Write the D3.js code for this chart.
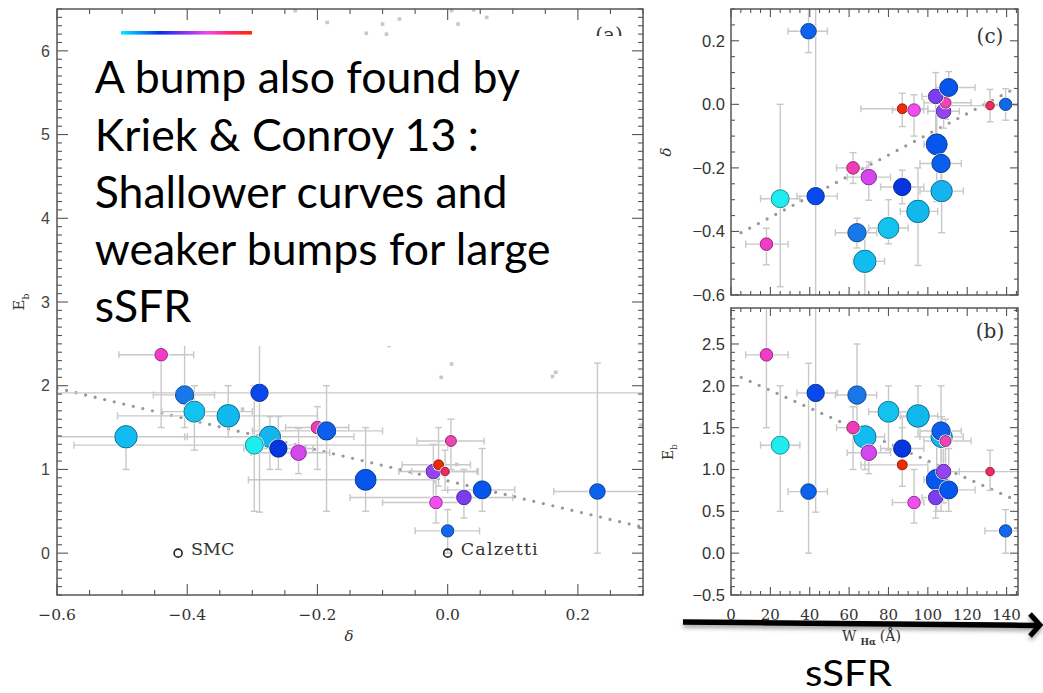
<!DOCTYPE html>
<html>
<head>
<meta charset="utf-8">
<script src="https://cdn.jsdelivr.net/npm/d3@7"></script>
<style>
body { margin: 0; background: #fff; }
svg { display: block; }
</style>
</head>
<body>
<div id="viz"></div>
<script>
// One galaxy per entry, in drawing order (later ones sit on top).
// delta = slope offset, eb = bump strength, wha = H-alpha equivalent width (A)
var delta   = [-0.404,-0.389,-0.337,-0.494,-0.273,-0.297,-0.260,-0.126,-0.440,-0.289,-0.229,-0.200,-0.186,-0.022,-0.014,-0.004,0.005,-0.018,0.025,0.053,0.000,0.230];
var eb      = [1.89,1.69,1.64,1.39,1.39,1.29,1.25,0.876,2.37,1.915,1.20,1.50,1.46,0.975,1.055,0.975,1.34,0.605,0.665,0.756,0.266,0.736];
var wha     = [64,80,95,68,107,25,87,104.5,18,43,70,62,106.7,108,87,131.6,109,93,104,110.6,139.5,39.4];
var deltaLo = [-0.452,-0.439,-0.507,-0.75,-0.404,-0.574,-0.313,-0.306,-0.505,-0.8,-0.302,-0.249,-0.300,-0.075,-0.070,-0.055,-0.047,-0.100,-0.150,0.000,-0.050,0.163];
var deltaHi = [-0.358,-0.300,-0.200,-0.400,-0.144,0.000,-0.207,-0.020,-0.390,0.5,-0.181,-0.152,-0.100,0.045,0.035,0.047,0.056,0.030,0.100,0.103,0.049,0.40];
var ebLo    = [1.50,1.23,1.39,1.00,1.00,0.50,1.00,0.50,1.50,0.49,0.95,1.00,0.50,0.60,0.80,0.75,1.00,0.36,0.42,0.50,0.00,0.00];
var ebHi    = [2.50,2.00,2.00,1.52,1.63,2.00,1.63,1.50,3.50,3.50,1.49,1.75,2.00,1.30,1.50,1.23,1.60,1.00,1.00,1.25,0.52,2.27];
var whaLo   = [53,70,86,62,96,15,76,98,7.5,33.5,59,53.6,96,100,66,108,98,82,97,104,129,29];
var whaHi   = [74,90,105,78,118,35,98,109,29,54,81,69,117,116,100,150,122,98,110,124,150,49];
var size    = [9.2,10.5,11.3,11.2,10.7,9.0,8.7,10.5,6.3,8.7,7.8,6.3,9.2,7.3,5.0,4.3,5.5,6.3,7.3,9.0,6.2,7.8];
var colors  = ["#1878ea","#14c2f0","#10b8ee","#12bcf0","#16b4ee","#1eecee","#0636e2","#0656ee","#f03cc8","#0848ec","#d646ee",
               "#ee3cb6","#0c5eec","#9244ee","#f02a04","#ee2a5e","#ee44b4","#f04cee","#7a3eee","#0656ee","#1068ee","#0a62ee"];

// faint grey literature points in panel (a)
var greyDelta = [-0.185,-0.125,-0.100,-0.094,-0.074,0.016,0.060,-0.234,0.006,0.040,-0.010,0.006,0.161,0.166,0.297,-0.315,0.014,-0.090];
var greyEb    = [6.34,6.21,6.32,6.20,6.38,6.32,6.40,6.48,6.48,6.49,2.10,2.26,2.11,2.16,1.53,1.72,1.06,2.48];

// reference curves
var refNames = ["SMC", "Calzetti"];
var refDelta = [-0.414, 0.0];
var refEb    = [0, 0];

// dotted fit lines (end points)
var fitADelta = [-0.6, 0.3],   fitAEb    = [1.97, 0.31];
var fitCW     = [5.1, 145.5],  fitCDelta = [-0.404, 0.054];
var fitBW     = [5.2, 145.5],  fitBEb    = [2.10, 0.625];

// tick labels
var aXTicks = [-0.6, -0.4, -0.2, 0.0, 0.2];
var aYTicks = [0, 1, 2, 3, 4, 5, 6];
var cYTicks = [-0.6, -0.4, -0.2, 0.0, 0.2];
var bYTicks = [-0.5, 0.0, 0.5, 1.0, 1.5, 2.0, 2.5];
var wTicks  = [0, 20, 40, 60, 80, 100, 120, 140];

var noteLines = ["A bump also found by", "Kriek & Conroy 13 :", "Shallower curves and", "weaker bumps for large", "sSFR"];

var SERIF = "'DejaVu Serif', serif";
var SANS = "'Liberation Sans', Arial, sans-serif";
var ERR = "#c8c8c8";
var idx = d3.range(delta.length);

var xa = d3.scaleLinear().domain([-0.6, 0.3]).range([57, 643]);
var ya = d3.scaleLinear().domain([-0.5, 6.5]).range([595, 9]);
var xw = d3.scaleLinear().domain([0, 145.8]).range([731, 1018]);
var yc = d3.scaleLinear().domain([-0.6, 0.3]).range([295, 9]);
var yb = d3.scaleLinear().domain([-0.5, 2.93]).range([595, 308]);

var svg, defs;

function make_panel(name, x, y) {
    var x0 = x.range()[0], x1 = x.range()[1], y0 = y.range()[1], y1 = y.range()[0];
    defs.append("clipPath").attr("id", "clip-" + name)
        .append("rect").attr("x", x0).attr("y", y0).attr("width", x1 - x0).attr("height", y1 - y0);
    var g = svg.append("g").attr("id", name);
    var plot = g.append("g").attr("clip-path", "url(#clip-" + name + ")");
    return {g: g, plot: plot};
}

function is_major(v, step) {
    var q = v / step;
    return Math.abs(q - Math.round(q)) < 1e-6;
}

function add_frame(g, x, y, xMinor, xMajor, yMinor, yMajor, majLen, minLen) {
    var x0 = x.range()[0], x1 = x.range()[1], y0 = y.range()[1], y1 = y.range()[0];
    var dx = x.domain(), dy = y.domain();
    var xs = d3.range(Math.ceil(dx[0] / xMinor - 1e-6), Math.floor(dx[1] / xMinor + 1e-6) + 1).map(function(k) { return k * xMinor; });
    var ys = d3.range(Math.ceil(dy[0] / yMinor - 1e-6), Math.floor(dy[1] / yMinor + 1e-6) + 1).map(function(k) { return k * yMinor; });
    var t = g.append("g").attr("stroke", "#555").attr("stroke-width", 1.1);
    xs.forEach(function(v) {
        var L = is_major(v, xMajor) ? majLen : minLen;
        t.append("line").attr("x1", x(v)).attr("x2", x(v)).attr("y1", y1).attr("y2", y1 - L);
        t.append("line").attr("x1", x(v)).attr("x2", x(v)).attr("y1", y0).attr("y2", y0 + L);
    });
    ys.forEach(function(v) {
        var L = is_major(v, yMajor) ? majLen : minLen;
        t.append("line").attr("y1", y(v)).attr("y2", y(v)).attr("x1", x0).attr("x2", x0 + L);
        t.append("line").attr("y1", y(v)).attr("y2", y(v)).attr("x1", x1).attr("x2", x1 - L);
    });
    g.append("rect").attr("x", x0).attr("y", y0).attr("width", x1 - x0).attr("height", y1 - y0)
        .attr("fill", "none").attr("stroke", "#555").attr("stroke-width", 1.5);
}

// error bars with small caps
function add_errors(plot, xv, yv, xl, xh, yl, yh, x, y) {
    var e = plot.append("g").attr("stroke", ERR).attr("stroke-width", 1.4).attr("fill", "none");
    var c = 3.5;
    idx.forEach(function(i) {
        var px = x(xv[i]), py = y(yv[i]);
        var a = x(xl[i]), b = x(xh[i]), u = y(yh[i]), d = y(yl[i]);
        e.append("line").attr("x1", a).attr("x2", b).attr("y1", py).attr("y2", py);
        e.append("line").attr("x1", a).attr("x2", a).attr("y1", py - c).attr("y2", py + c);
        e.append("line").attr("x1", b).attr("x2", b).attr("y1", py - c).attr("y2", py + c);
        e.append("line").attr("x1", px).attr("x2", px).attr("y1", u).attr("y2", d);
        e.append("line").attr("x1", px - c).attr("x2", px + c).attr("y1", u).attr("y2", u);
        e.append("line").attr("x1", px - c).attr("x2", px + c).attr("y1", d).attr("y2", d);
    });
}

function add_fit(plot, xv, yv, x, y) {
    plot.append("line")
        .attr("x1", x(xv[0])).attr("y1", y(yv[0]))
        .attr("x2", x(xv[1])).attr("y2", y(yv[1]))
        .attr("stroke", "#9a9a9a").attr("stroke-width", 3.3)
        .attr("stroke-linecap", "round").attr("stroke-dasharray", "0,9.8");
}

function add_points(plot, xv, yv, x, y) {
    var p = plot.append("g").selectAll("g").data(idx).join("g");
    p.append("circle")
        .attr("cx", function(i) { return x(xv[i]); })
        .attr("cy", function(i) { return y(yv[i]); })
        .attr("r", function(i) { return size[i] + 1.1; })
        .attr("fill", "#fff");
    p.append("circle")
        .attr("cx", function(i) { return x(xv[i]); })
        .attr("cy", function(i) { return y(yv[i]); })
        .attr("r", function(i) { return size[i]; })
        .attr("fill", function(i) { return colors[i]; })
        .attr("stroke", function(i) { return d3.color(colors[i]).darker(1.7); })
        .attr("stroke-width", 0.9);
}

function sub_label(g, x, y, main, sub, rotate, size) {
    var t = g.append("text").attr("font-family", SERIF).attr("font-size", size).attr("fill", "#333")
        .attr("text-anchor", "middle")
        .attr("transform", "translate(" + x + "," + y + ")" + (rotate ? " rotate(-90)" : ""));
    t.append("tspan").text(main);
    t.append("tspan").attr("font-size", size * 0.62).attr("dy", size * 0.3).text(sub);
    return t;
}

function main() {
    svg = d3.select("#viz").append("svg").attr("width", 1043).attr("height", 693);
    defs = svg.append("defs");

    var grad = defs.append("linearGradient").attr("id", "cbar");
    [[0, "#00eeff"], [0.3, "#0a2cee"], [0.5, "#8a38ee"], [0.66, "#f048ee"], [0.82, "#ff2a6a"], [1, "#ff2a00"]]
        .forEach(function(s) { grad.append("stop").attr("offset", s[0]).attr("stop-color", s[1]); });
    var sh = defs.append("filter").attr("id", "shadow").attr("x", "-5%").attr("y", "-100%").attr("width", "110%").attr("height", "400%");
    sh.append("feDropShadow").attr("dx", 0).attr("dy", 3).attr("stdDeviation", 2)
        .attr("flood-color", "#000").attr("flood-opacity", 0.35);

    // ---- panel (a): Eb vs delta
    var A = make_panel("pa", xa, ya);
    A.plot.append("g").selectAll("rect").data(greyDelta).join("rect")
        .attr("x", function(d) { return xa(d) - 1.8; })
        .attr("y", function(d, i) { return ya(greyEb[i]) - 1.8; })
        .attr("width", 3.6).attr("height", 3.6).attr("fill", "#c8c8c8");
    add_fit(A.plot, fitADelta, fitAEb, xa, ya);
    add_errors(A.plot, delta, eb, deltaLo, deltaHi, ebLo, ebHi, xa, ya);
    add_points(A.plot, delta, eb, xa, ya);
    A.plot.append("g").selectAll("circle").data(refDelta).join("circle")
        .attr("cx", function(d) { return xa(d); })
        .attr("cy", function(d, i) { return ya(refEb[i]); })
        .attr("r", 4).attr("fill", "none").attr("stroke", "#222").attr("stroke-width", 1.6);
    A.plot.append("g").selectAll("text").data(refNames).join("text")
        .attr("x", function(d, i) { return xa(refDelta[i]) + 13; })
        .attr("y", function(d, i) { return ya(refEb[i]) + 1.5; })
        .attr("font-family", SERIF).attr("font-size", 17.5).attr("fill", "#333")
        .attr("letter-spacing", function(d, i) { return i ? 1.2 : 0; })
        .text(function(d) { return d; });
    A.g.append("text").attr("x", 609).attr("y", 42).attr("text-anchor", "middle")
        .attr("font-family", SERIF).attr("font-size", 20).attr("fill", "#333").text("(a)");

    // white text box pasted over the top of panel (a)
    svg.append("rect").attr("x", 68).attr("y", 36).attr("width", 564).attr("height", 310).attr("fill", "#fff");
    svg.append("rect").attr("x", 121).attr("y", 31).attr("width", 131).attr("height", 3.6).attr("fill", "url(#cbar)");
    add_frame(A.g, xa, ya, 0.05, 0.2, 0.1, 1, 11, 5);

    A.g.append("g").selectAll("text").data(aXTicks).join("text")
        .attr("x", function(d) { return xa(d); }).attr("y", 620)
        .attr("text-anchor", "middle").attr("font-family", SERIF).attr("font-size", 15.5).attr("fill", "#333")
        .text(d3.format(".1f"));
    A.g.append("g").selectAll("text").data(aYTicks).join("text")
        .attr("x", 50).attr("y", function(d) { return ya(d); }).attr("dy", "0.36em")
        .attr("text-anchor", "end").attr("font-family", SANS).attr("font-size", 16).attr("fill", "#444")
        .text(d3.format("d"));
    A.g.append("text").attr("x", 349).attr("y", 641).attr("text-anchor", "middle")
        .attr("font-family", SERIF).attr("font-style", "italic").attr("font-size", 15).attr("fill", "#333").text("δ");
    sub_label(A.g, 24, 302, "E", "b", true, 15);

    // ---- panel (c): delta vs W_Ha
    var C = make_panel("pc", xw, yc);
    add_fit(C.plot, fitCW, fitCDelta, xw, yc);
    add_errors(C.plot, wha, delta, whaLo, whaHi, deltaLo, deltaHi, xw, yc);
    add_points(C.plot, wha, delta, xw, yc);
    add_frame(C.g, xw, yc, 5, 20, 0.05, 0.2, 8, 4);
    C.g.append("g").selectAll("text").data(cYTicks).join("text")
        .attr("x", 725).attr("y", function(d) { return yc(d); }).attr("dy", "0.36em")
        .attr("text-anchor", "end").attr("font-family", SANS).attr("font-size", 16.5).attr("fill", "#333")
        .text(d3.format(".1f"));
    C.g.append("text").attr("x", 990).attr("y", 43).attr("text-anchor", "middle")
        .attr("font-family", SERIF).attr("font-size", 20).attr("fill", "#333").text("(c)");
    C.g.append("text").attr("transform", "translate(671,152) rotate(-90)").attr("text-anchor", "middle")
        .attr("font-family", SERIF).attr("font-style", "italic").attr("font-size", 15).attr("fill", "#333").text("δ");

    // ---- panel (b): Eb vs W_Ha
    var B = make_panel("pb", xw, yb);
    add_fit(B.plot, fitBW, fitBEb, xw, yb);
    add_errors(B.plot, wha, eb, whaLo, whaHi, ebLo, ebHi, xw, yb);
    add_points(B.plot, wha, eb, xw, yb);
    add_frame(B.g, xw, yb, 5, 20, 0.1, 0.5, 8, 4);
    B.g.append("g").selectAll("text").data(bYTicks).join("text")
        .attr("x", 725).attr("y", function(d) { return yb(d); }).attr("dy", "0.36em")
        .attr("text-anchor", "end").attr("font-family", SANS).attr("font-size", 16.5).attr("fill", "#333")
        .text(d3.format(".1f"));
    B.g.append("g").selectAll("text").data(wTicks).join("text")
        .attr("x", function(d) { return xw(d); }).attr("y", 620)
        .attr("text-anchor", "middle").attr("font-family", SERIF).attr("font-size", 15).attr("fill", "#333")
        .text(function(d) { return d; });
    B.g.append("text").attr("x", 990).attr("y", 338).attr("text-anchor", "middle")
        .attr("font-family", SERIF).attr("font-size", 20).attr("fill", "#333").text("(b)");
    sub_label(B.g, 673, 452, "E", "b", true, 14);
    var wl = B.g.append("text").attr("x", 842).attr("y", 641)
        .attr("font-family", SERIF).attr("font-size", 14).attr("fill", "#333");
    wl.append("tspan").text("W");
    wl.append("tspan").attr("dx", 4).attr("dy", 4).attr("font-size", 9).attr("font-weight", "bold").text("Hα");
    wl.append("tspan").attr("dx", 4).attr("dy", -4).text("(Å)");

    // ---- slide overlay: arrow, sSFR and the note text
    var arrow = svg.append("g").attr("filter", "url(#shadow)");
    arrow.append("line").attr("x1", 683).attr("y1", 622).attr("x2", 1038).attr("y2", 625.5)
        .attr("stroke", "#000").attr("stroke-width", 5.5);
    arrow.append("polyline").attr("points", "1030,614 1040,625 1030,636")
        .attr("fill", "none").attr("stroke", "#000").attr("stroke-width", 5).attr("stroke-linejoin", "miter");

    var s = svg.append("text").attr("y", 686).attr("font-family", "Lato, 'Open Sans', sans-serif")
        .attr("font-size", 36).attr("fill", "#000").text("sSFR");
    var sw = s.node().getComputedTextLength();
    s.attr("transform", "translate(805,0) scale(" + (87 / sw) + ",1)");

    var note = svg.append("g");
    var lines = note.selectAll("text").data(noteLines).join("text")
        .attr("x", 0).attr("y", function(d, i) { return 93.5 + i * 57.1; })
        .attr("font-family", "Lato, 'Open Sans', sans-serif").attr("font-size", 44).attr("fill", "#000")
        .text(function(d) { return d; });
    var widest = lines.nodes()[3].getComputedTextLength();
    note.attr("transform", "translate(94.7,0) scale(" + (456 / widest) + ",1)");
}

main();
</script>
</body>
</html>
